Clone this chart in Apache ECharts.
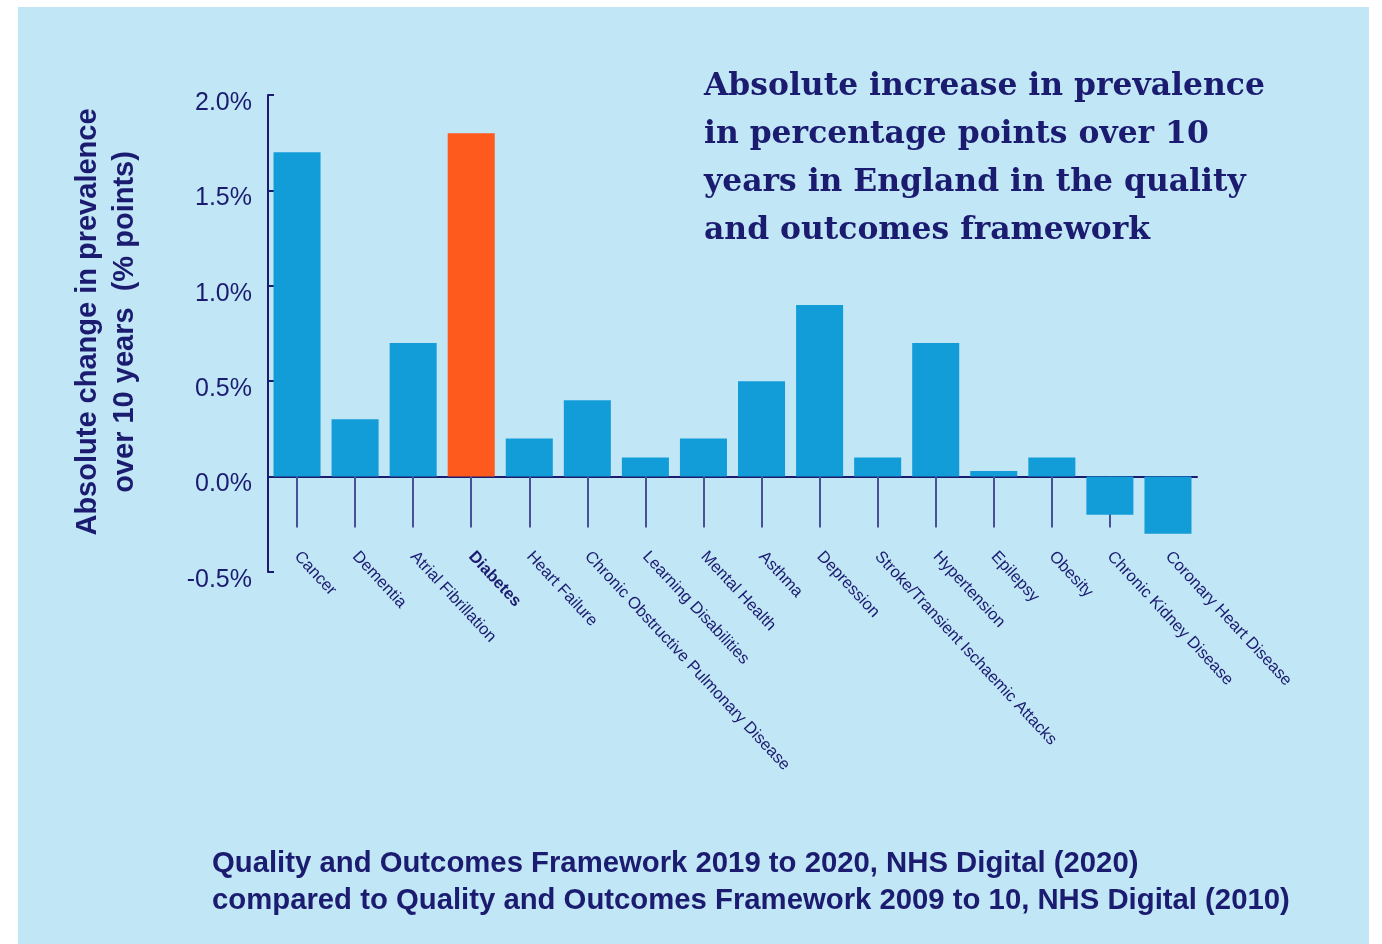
<!DOCTYPE html>
<html style="height: 100%">
    <head>
        <meta charset="utf-8">
        <script type="text/javascript" src="https://cdn.jsdelivr.net/npm/echarts@6/dist/echarts.min.js"></script>
    </head>
    <body style="height: 100%; margin: 0; background: #ffffff">
        <div id="panel" style="position: absolute; left: 18px; top: 7px; width: 1351px; height: 937px; background: #c1e6f6"></div>
        <div id="main" style="position: absolute; left: 0; top: 0; width: 1382px; height: 944px"></div>
        <script type="text/javascript">
            // QOF conditions, absolute change in prevalence (percentage points)
            var conditions = ['Cancer', 'Dementia', 'Atrial Fibrillation', 'Diabetes', 'Heart Failure',
                'Chronic Obstructive Pulmonary Disease', 'Learning Disabilities', 'Mental Health', 'Asthma',
                'Depression', 'Stroke/Transient Ischaemic Attacks', 'Hypertension', 'Epilepsy', 'Obesity',
                'Chronic Kidney Disease', 'Coronary Heart Disease'];
            var change = [1.7, 0.3, 0.7, 1.8, 0.2, 0.4, 0.1, 0.2, 0.5, 0.9, 0.1, 0.7, 0.03, 0.1, -0.2, -0.3];
            var highlight = 'Diabetes';
            var yTicks = [-0.5, 0, 0.5, 1.0, 1.5, 2.0];

            var navy = '#1b1b70';
            var myChart = echarts.init(document.getElementById('main'));

            var cats = conditions.map(function (c) {
                return c === highlight ? { value: c, textStyle: { fontWeight: 'bold' } } : c;
            });
            var bars = change.map(function (v, i) {
                return {
                    value: v,
                    itemStyle: { color: conditions[i] === highlight ? '#ff5a1e' : '#129dd8' }
                };
            });

            myChart.setOption({
                backgroundColor: 'transparent',
                animation: false,
                title: [{
                    text: 'Absolute increase in prevalence\nin percentage points over 10\nyears in England in the quality\nand outcomes framework',
                    left: 699,
                    top: 58,
                    textStyle: {
                        fontFamily: 'DejaVu Serif',
                        fontWeight: 'bold',
                        fontSize: 31.4,
                        lineHeight: 48,
                        color: navy
                    }
                }, {
                    text: 'Quality and Outcomes Framework 2019 to 2020, NHS Digital (2020)\ncompared to Quality and Outcomes Framework 2009 to 10, NHS Digital (2010)',
                    left: 207,
                    top: 840,
                    textStyle: {
                        fontFamily: 'Liberation Sans',
                        fontWeight: 'bold',
                        fontSize: 29.3,
                        lineHeight: 37,
                        color: navy
                    }
                }],
                graphic: [{
                    type: 'text',
                    x: 106,
                    y: 322,
                    rotation: Math.PI / 2,
                    style: {
                        text: 'Absolute change in prevalence\nover 10 years  (% points)',
                        textAlign: 'center',
                        textVerticalAlign: 'middle',
                        font: 'bold 29px "Liberation Sans"',
                        lineHeight: 37,
                        fill: navy
                    }
                }],
                grid: {
                    left: 268,
                    right: 1382 - 1197,
                    top: 95,
                    bottom: 944 - 572,
                    containLabel: false
                },
                xAxis: {
                    type: 'category',
                    data: cats,
                    axisLine: { show: true, onZero: true, lineStyle: { color: navy, width: 2 } },
                    axisTick: {
                        show: true,
                        alignWithLabel: true,
                        length: 51,
                        lineStyle: { color: '#4a5096', width: 2 }
                    },
                    axisLabel: {
                        rotate: -47,
                        margin: -18,
                        interval: 0,
                        fontFamily: 'Liberation Sans',
                        fontSize: 16.5,
                        color: navy
                    }
                },
                yAxis: {
                    type: 'value',
                    min: yTicks[0],
                    max: yTicks[yTicks.length - 1],
                    interval: 0.5,
                    splitLine: { show: false },
                    axisLine: { show: true, lineStyle: { color: navy, width: 2 } },
                    axisTick: { show: true, inside: true, length: 6, lineStyle: { color: navy, width: 2 } },
                    axisLabel: {
                        margin: 16,
                        verticalAlign: 'top',
                        lineHeight: 16,
                        fontFamily: 'Liberation Sans',
                        fontSize: 25,
                        color: navy,
                        formatter: function (v) { return v.toFixed(1) + '%'; }
                    }
                },
                series: [{
                    type: 'bar',
                    data: bars,
                    barWidth: '81%',
                    z: 3
                }]
            });
        </script>
    </body>
</html>
